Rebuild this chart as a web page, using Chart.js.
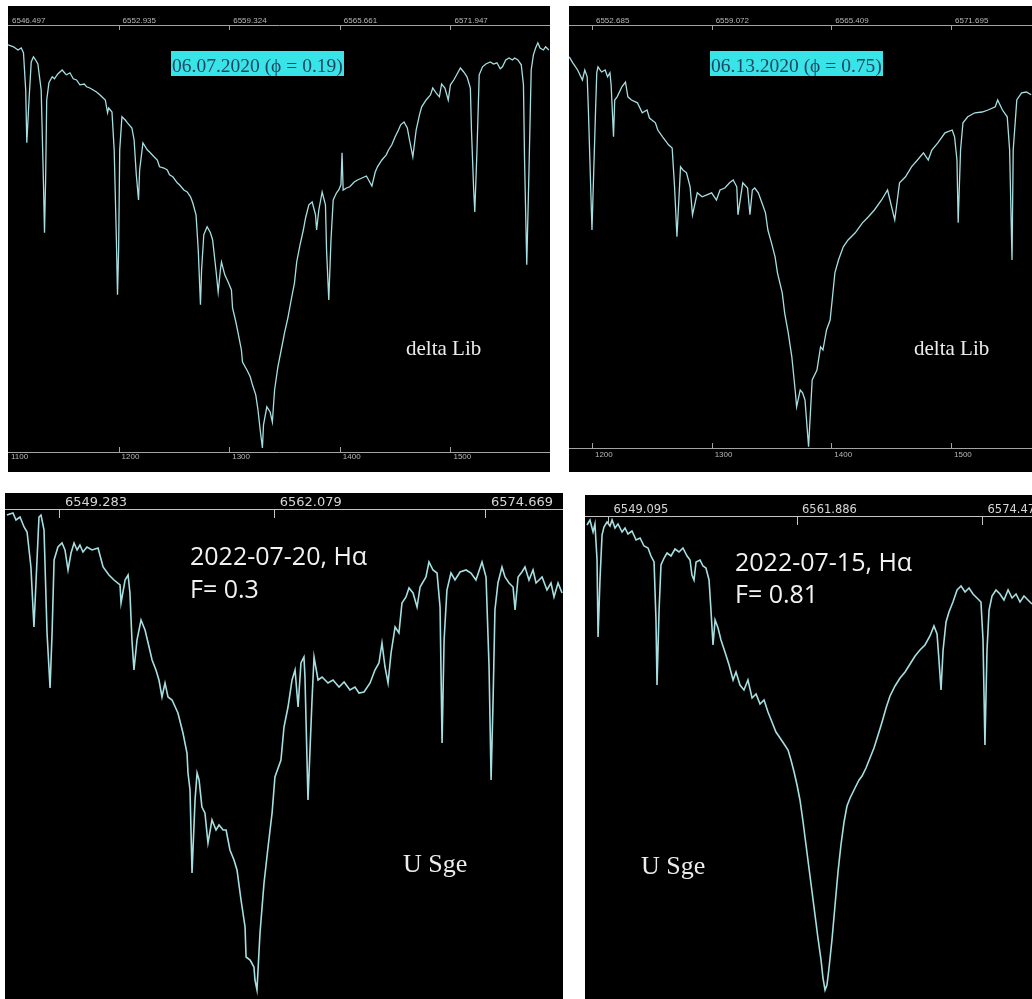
<!DOCTYPE html>
<html>
<head>
<meta charset="utf-8">
<script src="https://cdn.jsdelivr.net/npm/chart.js@4.4.1/dist/chart.umd.min.js"></script>
<style>
  html, body { margin: 0; padding: 0; background: #fff; }
  #sheet { position: relative; width: 1032px; height: 999px; overflow: hidden; background: #fff; }
  #sheet canvas { position: absolute; background: #000; }
  .stamp {
    position: absolute; white-space: nowrap; background: #38e4e8; color: #1d4560;
    font-family: "Liberation Serif", "DejaVu Serif", serif; font-size: 19.5px;
    height: 23px; line-height: 25px; padding: 2px 1px 0 1px;
  }
  .star { position: absolute; white-space: nowrap; color: #ececec; line-height: 1;
    font-family: "Liberation Serif", "DejaVu Serif", serif; }
  .obs { position: absolute; white-space: nowrap; color: #f2f2f2; line-height: 1;
    font-family: "Open Sans", "Noto Sans", sans-serif; font-size: 25px; }
</style>
</head>
<body>
<div id="sheet">
  <canvas id="lib0607" width="542" height="466" style="left:8px;top:6px"></canvas>
  <canvas id="lib0613" width="463" height="466" style="left:569px;top:6px"></canvas>
  <canvas id="sge0720" width="558" height="506" style="left:5px;top:493px"></canvas>
  <canvas id="sge0715" width="447" height="504" style="left:585px;top:495px"></canvas>

  <div class="stamp" style="left:171px;top:51px">06.07.2020 (ϕ = 0.19)</div>
  <div class="stamp" style="left:710px;top:51px">06.13.2020 (ϕ = 0.75)</div>
  <div class="star" style="left:406px;top:338px;font-size:21px">delta Lib</div>
  <div class="star" style="left:914px;top:338px;font-size:21px">delta Lib</div>

  <div class="obs" style="left:190px;top:543px">2022-07-20, Hα</div>
  <div class="obs" style="left:190px;top:576px">F= 0.3</div>
  <div class="star" style="left:403px;top:851px;font-size:26px">U Sge</div>

  <div class="obs" style="left:735px;top:549px">2022-07-15, Hα</div>
  <div class="obs" style="left:735px;top:581px">F= 0.81</div>
  <div class="star" style="left:641px;top:853px;font-size:26px">U Sge</div>
</div>

<script>
// ---- delta Lib, 2020-06-07: [detector pixel, relative flux] ----
const deltaLib0607 = [
  [1100,1.018],[1105,1.013],[1109,1.005],[1112,1.01],[1114,0.998],[1116,0.905],[1117,0.773],[1119,0.88],
  [1121,0.975],[1123,0.988],[1125,0.98],[1127,0.97],[1130,0.905],[1132,0.68],[1133,0.548],[1134,0.68],
  [1135,0.88],[1137,0.923],[1140,0.938],[1142,0.933],[1145,0.945],[1149,0.955],[1152,0.945],[1153,0.943],
  [1156,0.948],[1159,0.933],[1162,0.93],[1165,0.918],[1169,0.92],[1171,0.913],[1174,0.91],[1177,0.905],
  [1180,0.9],[1183,0.893],[1186,0.885],[1188,0.88],[1190,0.848],[1191,0.86],[1194,0.85],[1196,0.755],
  [1198,0.53],[1199,0.393],[1200,0.505],[1201,0.755],[1203,0.838],[1206,0.83],[1208,0.823],[1212,0.81],
  [1214,0.78],[1216,0.693],[1218,0.63],[1219,0.705],[1222,0.773],[1226,0.755],[1228,0.75],[1232,0.738],
  [1235,0.73],[1237,0.713],[1241,0.71],[1244,0.705],[1246,0.693],[1249,0.688],[1253,0.673],[1255,0.668],
  [1259,0.655],[1262,0.65],[1265,0.638],[1267,0.623],[1270,0.593],[1272,0.505],[1274,0.368],[1275,0.455],
  [1277,0.543],[1280,0.563],[1283,0.548],[1285,0.53],[1288,0.455],[1290,0.40],[1292,0.455],[1293,0.475],
  [1296,0.443],[1299,0.425],[1302,0.405],[1303,0.36],[1306,0.325],[1308,0.298],[1311,0.255],[1312,0.225],
  [1316,0.205],[1319,0.188],[1321,0.168],[1324,0.143],[1326,0.105],[1328,0.055],[1330,0.01],[1331,0.068],
  [1334,0.113],[1337,0.10],[1339,0.075],[1341,0.155],[1344,0.213],[1347,0.255],[1350,0.298],[1353,0.335],
  [1356,0.38],[1359,0.423],[1361,0.475],[1364,0.518],[1367,0.555],[1369,0.585],[1372,0.618],[1375,0.625],
  [1378,0.593],[1379,0.555],[1381,0.605],[1384,0.65],[1387,0.618],[1388,0.505],[1390,0.38],[1392,0.53],
  [1394,0.63],[1397,0.648],[1399,0.655],[1401,0.668],[1402,0.748],[1403,0.655],[1406,0.66],[1409,0.663],
  [1413,0.675],[1416,0.68],[1420,0.685],[1424,0.69],[1426,0.68],[1429,0.665],[1432,0.70],[1434,0.713],
  [1438,0.73],[1442,0.743],[1444,0.755],[1447,0.768],[1450,0.788],[1453,0.805],[1455,0.818],[1458,0.825],
  [1461,0.81],[1463,0.78],[1466,0.738],[1469,0.805],[1472,0.843],[1474,0.863],[1478,0.88],[1482,0.893],
  [1484,0.91],[1487,0.898],[1490,0.888],[1492,0.92],[1495,0.91],[1498,0.88],[1500,0.918],[1503,0.93],
  [1506,0.945],[1509,0.96],[1512,0.95],[1515,0.938],[1518,0.91],[1519,0.805],[1521,0.655],[1522,0.60],
  [1524,0.755],[1526,0.943],[1529,0.963],[1532,0.97],[1536,0.975],[1539,0.97],[1542,0.973],[1545,0.958],
  [1547,0.963],[1550,0.98],[1553,0.985],[1556,0.98],[1558,0.985],[1561,0.98],[1564,0.968],[1566,0.918],
  [1567,0.73],[1569,0.468],[1571,0.705],[1573,0.955],[1575,0.993],[1577,1.01],[1579,1.023],[1581,1.01],
  [1584,1.005],[1586,1.013],[1589,1.005]
];
const lib0607PixelTicks = [1100, 1200, 1300, 1400, 1500];
const lib0607PixelLabels = ['1100', '1200', '1300', '1400', '1500'];
const lib0607WaveLabels = ['6546.497', '6552.935', '6559.324', '6565.661', '6571.947'];

// ---- delta Lib, 2020-06-13: [detector pixel, relative flux] ----
const deltaLib0613 = [
  [1181,0.978],[1184,0.963],[1188,0.945],[1192,0.92],[1194,0.945],[1196,0.928],[1197,0.845],[1200,0.545],
  [1203,0.845],[1204,0.938],[1205,0.953],[1208,0.94],[1211,0.945],[1213,0.928],[1215,0.938],[1216,0.908],
  [1218,0.778],[1219,0.87],[1221,0.878],[1225,0.903],[1228,0.915],[1230,0.878],[1233,0.87],[1238,0.863],
  [1242,0.838],[1246,0.845],[1248,0.825],[1253,0.813],[1255,0.795],[1259,0.778],[1264,0.758],[1267,0.75],
  [1269,0.653],[1271,0.528],[1274,0.703],[1276,0.695],[1279,0.688],[1282,0.653],[1284,0.583],[1288,0.638],
  [1292,0.628],[1296,0.633],[1300,0.638],[1304,0.62],[1307,0.645],[1311,0.65],[1315,0.663],[1318,0.67],
  [1321,0.653],[1322,0.583],[1326,0.663],[1330,0.65],[1332,0.583],[1334,0.645],[1336,0.65],[1339,0.638],
  [1342,0.613],[1345,0.588],[1347,0.545],[1350,0.513],[1353,0.478],[1355,0.438],[1359,0.388],[1361,0.338],
  [1364,0.288],[1367,0.228],[1370,0.138],[1371,0.103],[1374,0.145],[1376,0.138],[1378,0.12],[1381,0.003],
  [1384,0.17],[1388,0.195],[1391,0.253],[1393,0.245],[1396,0.295],[1399,0.32],[1401,0.378],[1403,0.438],
  [1406,0.47],[1410,0.503],[1414,0.52],[1420,0.538],[1426,0.563],[1431,0.578],[1436,0.595],[1442,0.62],
  [1447,0.645],[1453,0.57],[1457,0.663],[1462,0.678],[1467,0.703],[1472,0.72],[1477,0.738],[1481,0.72],
  [1484,0.745],[1489,0.763],[1495,0.788],[1501,0.795],[1503,0.778],[1505,0.72],[1506,0.563],[1508,0.745],
  [1510,0.813],[1514,0.828],[1520,0.838],[1526,0.84],[1531,0.845],[1537,0.853],[1539,0.87],[1543,0.845],
  [1547,0.828],[1549,0.745],[1551,0.47],[1552,0.745],[1555,0.87],[1559,0.888],[1563,0.89],[1567,0.883]
];
const lib0613PixelTicks = [1200, 1300, 1400, 1500];
const lib0613PixelLabels = ['1200', '1300', '1400', '1500'];
const lib0613WaveLabels = ['6552.685', '6559.072', '6565.409', '6571.695'];

// ---- U Sge, 2022-07-20: [wavelength, relative flux] ----
const uSge0720 = [
  [6546.18,0.968],[6546.54,0.972],[6546.72,0.958],[6546.96,0.964],[6547.20,0.944],[6547.38,0.934],
  [6547.61,0.864],[6547.79,0.744],[6547.91,0.832],[6548.09,0.964],[6548.21,0.968],[6548.33,0.948],
  [6548.39,0.938],[6548.57,0.732],[6548.75,0.622],[6548.87,0.732],[6548.99,0.878],[6549.22,0.904],
  [6549.46,0.912],[6549.64,0.898],[6549.82,0.858],[6550.00,0.892],[6550.18,0.912],[6550.36,0.898],
  [6550.53,0.908],[6550.71,0.894],[6550.95,0.904],[6551.25,0.898],[6551.61,0.902],[6551.91,0.864],
  [6552.26,0.848],[6552.56,0.838],[6552.92,0.828],[6552.98,0.792],[6553.22,0.838],[6553.40,0.848],
  [6553.51,0.812],[6553.63,0.718],[6553.75,0.658],[6553.93,0.718],[6554.17,0.758],[6554.41,0.738],
  [6554.65,0.704],[6554.83,0.678],[6555.06,0.658],[6555.24,0.638],[6555.42,0.604],[6555.60,0.632],
  [6555.78,0.604],[6556.02,0.598],[6556.37,0.572],[6556.67,0.532],[6556.91,0.492],[6556.97,0.452],
  [6557.09,0.418],[6557.21,0.252],[6557.39,0.398],[6557.51,0.452],[6557.63,0.438],[6557.80,0.384],
  [6557.98,0.372],[6558.16,0.312],[6558.40,0.358],[6558.64,0.338],[6558.82,0.348],[6559.06,0.338],
  [6559.24,0.338],[6559.47,0.298],[6559.71,0.278],[6559.89,0.258],[6560.13,0.198],[6560.37,0.144],
  [6560.43,0.084],[6560.67,0.078],[6560.90,0.064],[6560.96,0.038],[6561.08,0.018],[6561.26,0.132],
  [6561.50,0.232],[6561.74,0.304],[6561.98,0.372],[6562.15,0.444],[6562.51,0.478],[6562.69,0.544],
  [6562.93,0.584],[6563.17,0.638],[6563.35,0.658],[6563.53,0.584],[6563.70,0.672],[6563.88,0.684],
  [6563.94,0.644],[6564.12,0.398],[6564.36,0.598],[6564.48,0.684],[6564.72,0.638],[6564.96,0.644],
  [6565.31,0.632],[6565.61,0.638],[6565.97,0.624],[6566.27,0.634],[6566.62,0.618],[6566.92,0.624],
  [6567.16,0.612],[6567.46,0.614],[6567.82,0.632],[6568.11,0.658],[6568.35,0.672],[6568.53,0.712],
  [6568.71,0.664],[6568.89,0.632],[6569.07,0.692],[6569.31,0.744],[6569.54,0.732],[6569.72,0.792],
  [6569.96,0.804],[6570.14,0.822],[6570.38,0.812],[6570.62,0.784],[6570.80,0.824],[6571.15,0.844],
  [6571.33,0.874],[6571.57,0.858],[6571.81,0.852],[6571.99,0.784],[6572.11,0.512],[6572.23,0.718],
  [6572.40,0.818],[6572.64,0.852],[6572.88,0.838],[6573.18,0.854],[6573.54,0.858],[6573.83,0.852],
  [6574.13,0.838],[6574.49,0.874],[6574.73,0.844],[6574.91,0.664],[6575.03,0.438],[6575.15,0.598],
  [6575.26,0.778],[6575.44,0.832],[6575.68,0.864],[6575.86,0.844],[6576.10,0.832],[6576.34,0.824],
  [6576.46,0.778],[6576.64,0.844],[6576.87,0.854],[6577.05,0.864],[6577.29,0.838],[6577.53,0.858],
  [6577.71,0.832],[6578.07,0.844],[6578.36,0.818],[6578.60,0.832],[6578.78,0.804],[6579.02,0.832],
  [6579.26,0.812]
];
const sge0720WaveTicks = [6549.283, 6562.079, 6574.669];
const sge0720WaveLabels = ['6549.283', '6562.079', '6574.669'];

// ---- U Sge, 2022-07-15: [wavelength, relative flux] ----
const uSge0715 = [
  [6547.67,0.948],[6547.87,0.958],[6548.08,0.934],[6548.21,0.95],[6548.35,0.878],[6548.42,0.724],
  [6548.55,0.838],[6548.69,0.928],[6548.82,0.944],[6549.03,0.954],[6549.23,0.946],[6549.37,0.958],
  [6549.57,0.942],[6549.77,0.95],[6550.05,0.934],[6550.25,0.942],[6550.45,0.930],[6550.72,0.936],
  [6551.00,0.918],[6551.27,0.922],[6551.54,0.906],[6551.81,0.902],[6552.01,0.886],[6552.22,0.874],
  [6552.35,0.758],[6552.42,0.628],[6552.56,0.778],[6552.69,0.868],[6552.90,0.882],[6553.10,0.892],
  [6553.37,0.886],[6553.64,0.900],[6553.91,0.894],[6554.18,0.902],[6554.46,0.886],[6554.66,0.878],
  [6554.79,0.848],[6554.93,0.838],[6555.07,0.874],[6555.34,0.878],[6555.54,0.866],[6555.74,0.862],
  [6555.95,0.838],[6556.08,0.778],[6556.22,0.708],[6556.36,0.758],[6556.56,0.742],[6556.76,0.718],
  [6557.03,0.694],[6557.31,0.668],[6557.58,0.638],[6557.78,0.654],[6558.05,0.628],[6558.32,0.618],
  [6558.59,0.638],[6558.87,0.602],[6559.14,0.610],[6559.41,0.590],[6559.68,0.598],[6559.95,0.574],
  [6560.22,0.554],[6560.49,0.534],[6560.77,0.522],[6561.04,0.510],[6561.31,0.498],[6561.51,0.478],
  [6561.72,0.454],[6561.92,0.428],[6562.12,0.398],[6562.33,0.354],[6562.53,0.308],[6562.73,0.262],
  [6562.94,0.214],[6563.14,0.168],[6563.34,0.122],[6563.55,0.078],[6563.68,0.042],[6563.82,0.018],
  [6563.95,0.028],[6564.09,0.062],[6564.29,0.118],[6564.50,0.188],[6564.70,0.254],[6564.90,0.308],
  [6565.11,0.354],[6565.31,0.386],[6565.52,0.402],[6565.72,0.414],[6565.92,0.426],[6566.13,0.438],
  [6566.33,0.446],[6566.60,0.462],[6566.87,0.482],[6567.14,0.502],[6567.42,0.528],[6567.69,0.554],
  [6567.96,0.582],[6568.23,0.606],[6568.57,0.626],[6568.91,0.642],[6569.25,0.654],[6569.59,0.670],
  [6569.93,0.686],[6570.26,0.698],[6570.60,0.708],[6570.94,0.726],[6571.21,0.746],[6571.42,0.730],
  [6571.55,0.678],[6571.69,0.618],[6571.83,0.698],[6572.03,0.754],[6572.23,0.774],[6572.50,0.794],
  [6572.78,0.818],[6573.05,0.826],[6573.32,0.814],[6573.59,0.822],[6573.86,0.810],[6574.13,0.802],
  [6574.40,0.794],[6574.54,0.718],[6574.67,0.508],[6574.81,0.698],[6574.95,0.778],[6575.15,0.806],
  [6575.42,0.818],[6575.69,0.810],[6575.96,0.798],[6576.24,0.818],[6576.51,0.802],[6576.78,0.810],
  [6577.05,0.794],[6577.32,0.806],[6577.59,0.798],[6577.86,0.790]
];
const sge0715WaveTicks = [6549.095, 6561.886, 6574.47];
const sge0715WaveLabels = ['6549.095', '6561.886', '6574.47'];

// Short tick marks pointing into the plot from each horizontal axis line.
const inwardTicks = {
  id: 'inwardTicks',
  afterDraw(chart, args, opts) {
    const ctx = chart.ctx;
    const area = chart.chartArea;
    ctx.save();
    ctx.strokeStyle = opts.color;
    ctx.lineWidth = 1;
    ['top', 'bottom'].forEach(id => {
      const s = chart.scales[id];
      if (!s || !s.options.display) return;
      const dir = id === 'top' ? 1 : -1;
      const y0 = id === 'top' ? area.top : area.bottom;
      s.ticks.forEach(t => {
        const x = Math.round(s.getPixelForValue(t.value)) + 0.5;
        if (x < area.left + 2 || x > area.right - 2) return;
        ctx.beginPath();
        ctx.moveTo(x, y0);
        ctx.lineTo(x, y0 + dir * opts.length);
        ctx.stroke();
      });
    });
    ctx.restore();
  }
};

function axis(position, range, tickValues, tickLabels, look) {
  return {
    type: 'linear',
    position,
    min: range[0],
    max: range[1],
    grid: { display: false, drawTicks: false, tickLength: 0 },
    border: { display: true, color: look.line, width: 1 },
    ticks: {
      autoSkip: false, maxRotation: 0, minRotation: 0,
      align: 'start', labelOffset: look.offset, padding: look.padding,
      color: look.text,
      font: { family: look.family, size: look.size, lineHeight: 1 },
      callback: (value, index) => tickLabels[index]
    },
    afterBuildTicks: s => { s.ticks = tickValues.map(v => ({ value: v })); },
    afterFit: s => { s.height = look.band; s.paddingLeft = 0; s.paddingRight = 0; }
  };
}

function spectrum(canvasId, points, xAxisId, scales, yRange, lineWidth, tickLen, tickColor) {
  scales.y = { display: false, min: yRange[0], max: yRange[1] };
  return new Chart(document.getElementById(canvasId), {
    type: 'line',
    data: {
      datasets: [{
        data: points,
        xAxisID: xAxisId,
        yAxisID: 'y',
        borderColor: '#a6dfe1',
        borderWidth: lineWidth,
        pointRadius: 0,
        tension: 0,
        fill: false
      }]
    },
    options: {
      responsive: false,
      devicePixelRatio: 1,
      animation: false,
      events: [],
      parsing: true,
      layout: { padding: 0 },
      scales,
      plugins: {
        legend: { display: false },
        tooltip: { enabled: false },
        inwardTicks: { length: tickLen, color: tickColor }
      }
    },
    plugins: [inwardTicks]
  });
}

const smallTop = { line: '#a3a3a3', text: '#b8b8b8', family: 'Liberation Sans, Arial, sans-serif', size: 8, offset: 4, padding: 0.5, band: 19 };
const smallBottom = Object.assign({}, smallTop, { offset: 3, padding: 0.5, band: 20 });

// delta Lib panels: pixel scale below, wavelength labels above
const lib0607Range = [1100, 1590];
spectrum('lib0607', deltaLib0607, 'bottom', {
  top: axis('top', lib0607Range, lib0607PixelTicks, lib0607WaveLabels, smallTop),
  bottom: axis('bottom', lib0607Range, lib0607PixelTicks, lib0607PixelLabels, smallBottom)
}, [0, 1.0675], 1.3, 5, '#a3a3a3');

const lib0613Range = [1180.8, 1567.7];
spectrum('lib0613', deltaLib0613, 'bottom', {
  top: axis('top', lib0613Range, lib0613PixelTicks, lib0613WaveLabels, smallTop),
  bottom: axis('bottom', lib0613Range, lib0613PixelTicks, lib0613PixelLabels, Object.assign({}, smallBottom, { padding: 2.5, band: 24 }))
}, [0, 1.0575], 1.3, 5, '#a3a3a3');

// U Sge panels: wavelength scale above only
const bigTop = { line: '#c4c4c4', text: '#d6d6d6', family: 'DejaVu Sans, sans-serif', size: 13, offset: 6, padding: 0, band: 16 };
spectrum('sge0720', uSge0720, 'top', {
  top: axis('top', [6546.065, 6579.316], sge0720WaveTicks, sge0720WaveLabels, bigTop)
}, [0, 0.98], 1.6, 9, '#c4c4c4');

spectrum('sge0715', uSge0715, 'top', {
  top: axis('top', [6547.534, 6577.863], sge0715WaveTicks, sge0715WaveLabels, Object.assign({}, bigTop, { size: 11.5, offset: 5.5, band: 21 }))
}, [0, 0.966], 1.6, 9, '#c4c4c4');
</script>
</body>
</html>
